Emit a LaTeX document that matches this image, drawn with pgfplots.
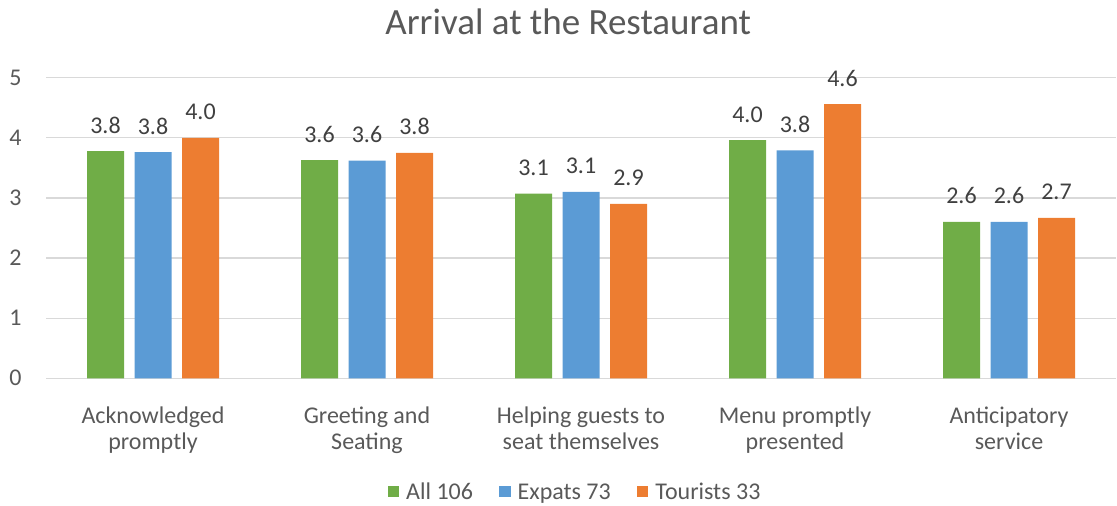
\documentclass[border=0pt]{standalone}
\usepackage{fontspec}
\setmainfont{Carlito}
\usepackage{pgfplots}
\pgfplotsset{compat=1.18}
\definecolor{cgreen}{HTML}{70AD47}
\definecolor{cblue}{HTML}{5B9BD5}
\definecolor{corange}{HTML}{ED7D31}
\definecolor{ctext}{HTML}{595959}
\definecolor{clabel}{HTML}{404040}
\definecolor{cgrid}{HTML}{D9D9D9}
\begin{document}
\begin{tikzpicture}
\path[use as bounding box] (0,0) rectangle (558.5pt,253pt);
\begin{axis}[
  at={(23pt,63.85pt)}, anchor=south west,
  scale only axis, width=535pt, height=150.3pt,
  ybar=5.25pt, bar width=18.5pt,
  xmin=-0.5, xmax=4.5, ymin=0, ymax=5,
  xtick={0,1,2,3,4},
  xticklabels={{Acknowledged\\promptly},{Greeting and\\Seating},{Helping guests to\\seat themselves},{Menu promptly\\presented},{Anticipatory\\service}},
  ytick={0,1,2,3,4,5},
  /pgf/number format/assume math mode=true,
  axis line style={draw=none},
  major tick length=0pt,
  ymajorgrids, grid style={cgrid, line width=0.65pt},
  tick label style={font=\fontsize{12pt}{13pt}\selectfont, text=ctext},
  xticklabel style={align=center, anchor=base, yshift=-35.5pt, inner sep=0pt},
  yticklabel style={anchor=east, inner sep=0pt, xshift=-12pt},
  title={Arrival at the Restaurant},
  title style={at={(0.488,1)}, anchor=base, yshift=15.35pt, font=\fontsize{18.5pt}{20pt}\selectfont, text=ctext, inner sep=0pt},
  nodes near coords={\pgfmathprintnumber[fixed, fixed zerofill, precision=1, assume math mode=true]{\pgfplotspointmeta}},
  every node near coord/.append style={font=\fontsize{12pt}{13pt}\selectfont, text=clabel, anchor=base, yshift=9pt, inner sep=0pt},
  legend columns=3,
  legend style={at={(0.4935,-0.3816)}, anchor=center, draw=none, fill=none,
    font=\fontsize{12pt}{13pt}\selectfont, text=ctext,
    nodes={inner sep=0pt},
    /tikz/every odd column/.append style={column sep=3.5pt},
    /tikz/every even column/.append style={column sep=13pt}},
  legend image code/.code={\fill[#1] (0pt,-2.2pt) rectangle (5.8pt,3.6pt);},
]
\addplot[fill=cgreen, draw=none] coordinates {(0,3.78) (1,3.63) (2,3.07) (3,3.96) (4,2.60)};
\addplot[fill=cblue, draw=none] coordinates {(0,3.76) (1,3.62) (2,3.10) (3,3.79) (4,2.60)};
\addplot[fill=corange, draw=none] coordinates {(0,4.00) (1,3.75) (2,2.90) (3,4.56) (4,2.67)};
\legend{All 106, Expats 73, Tourists 33}
\end{axis}
\end{tikzpicture}
\end{document}
